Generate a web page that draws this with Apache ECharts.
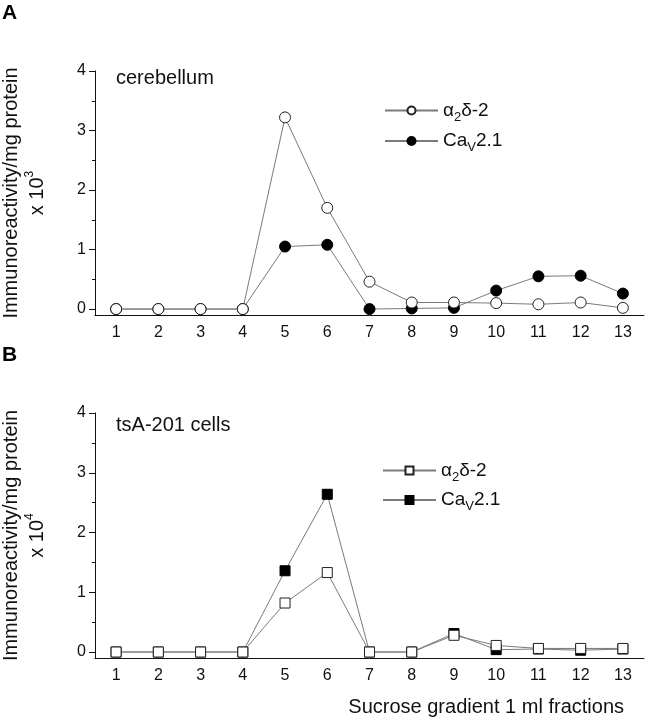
<!DOCTYPE html>
<html>
<head>
<meta charset="utf-8">
<script src="https://cdn.jsdelivr.net/npm/echarts@6/dist/echarts.min.js"></script>
<style>html,body{margin:0;padding:0;background:#fff}#c{width:646px;height:720px}</style>
</head>
<body>
<div id="c"></div>
<script>
const fractions = ['1','2','3','4','5','6','7','8','9','10','11','12','13'];
const yTicks = [0, 1, 2, 3, 4];
const yMinorTicks = [0.5, 1.5, 2.5, 3.5];
const cerebA2d2 = [0, 0, 0, 0, 3.22, 1.70, 0.46, 0.11, 0.11, 0.10, 0.08, 0.11, 0.02];
const cerebCav = [0, 0, 0, 0, 1.05, 1.08, 0, 0.01, 0.02, 0.31, 0.55, 0.56, 0.26];
const tsaA2d2 = [0, 0, 0, 0, 0.82, 1.33, 0, 0, 0.28, 0.11, 0.06, 0.06, 0.06];
const tsaCav = [0, 0, 0, 0, 1.36, 2.64, 0, 0, 0.31, 0.04, 0.05, 0.03, 0.05];

const FONT = 'Liberation Sans';
const chart = echarts.init(document.getElementById('c'), null, {renderer: 'canvas'});

const legendNames = {
  a2d2A: '{t|α}{sub|2}{t|δ-2}', cavA: '{t|Ca}{sub|V}{t|2.1}',
  a2d2B: '{t|α}{sub|2}{t|δ-2}', cavB: '{t|Ca}{sub|V}{t|2.1}'
};
const legendRich = {
  t: {fontSize: 19, fontFamily: FONT, color: '#111', lineHeight: 26},
  sub: {fontSize: 13, fontFamily: FONT, color: '#111', lineHeight: 6, verticalAlign: 'bottom'}
};

function xAx(gi) {
  return {
    type: 'category', gridIndex: gi, data: fractions, boundaryGap: true,
    axisLine: {onZero: false, lineStyle: {color: '#111', width: 1}},
    axisTick: {alignWithLabel: true, length: 6, lineStyle: {color: '#111'}},
    axisLabel: {fontFamily: FONT, fontSize: 16, color: '#111', margin: 10, interval: 0},
    splitLine: {show: false}
  };
}
function yAx(gi, exp) {
  return {
    type: 'value', gridIndex: gi, min: -0.1, max: 4,
    axisLine: {show: true, lineStyle: {color: '#111', width: 1}},
    axisTick: {show: true, length: 6, customValues: yTicks, lineStyle: {color: '#111'}},
    axisLabel: {customValues: yTicks, fontFamily: FONT, fontSize: 16, color: '#111', margin: 9},
    splitLine: {show: false},
    name: 'Immunoreactivity/mg protein\nx 10{sup|' + exp + '}',
    nameLocation: 'middle', nameRotate: 90, nameGap: 45,
    nameTextStyle: {fontFamily: FONT, fontSize: 20, color: '#111', lineHeight: 26,
      rich: {sup: {fontFamily: FONT, fontSize: 12, color: '#111', verticalAlign: 'top', lineHeight: 14}}}
  };
}
function yMinor(gi) {
  return {
    type: 'value', gridIndex: gi, min: -0.1, max: 4, position: 'left', offset: 0,
    axisLine: {show: false},
    axisTick: {show: true, length: 3, customValues: yMinorTicks, lineStyle: {color: '#111'}},
    axisLabel: {show: false}, splitLine: {show: false}
  };
}
function ser(name, data, xi, yi, symbol, size, filled, z) {
  return {
    name: name, type: 'line', xAxisIndex: xi, yAxisIndex: yi, data: data,
    symbol: symbol, symbolSize: size, showSymbol: true, z: z,
    lineStyle: {color: '#7a7a7a', width: 1},
    itemStyle: filled ? {color: '#000', borderColor: '#000', borderWidth: 1}
                      : {color: '#fff', borderColor: '#222', borderWidth: 1},
    emphasis: {disabled: true}, animation: false
  };
}

chart.setOption({
  animation: false,
  backgroundColor: '#fff',
  grid: [
    {left: 95, right: 2, top: 71, height: 244, outerBoundsMode: 'none', containLabel: false},
    {left: 95, right: 2, top: 413, height: 245, outerBoundsMode: 'none', containLabel: false}
  ],
  xAxis: [xAx(0), xAx(1)],
  yAxis: [yAx(0, 3), yAx(1, 4), yMinor(0), yMinor(1)],
  legend: [
    {data: ['a2d2A', 'cavA'], orient: 'vertical', left: 384, top: 101, padding: 0, itemWidth: 53, itemHeight: 10, itemGap: 8,
     formatter: n => legendNames[n], textStyle: {rich: legendRich}, selectedMode: false},
    {data: ['a2d2B', 'cavB'], orient: 'vertical', left: 382, top: 461, padding: 0, itemWidth: 53, itemHeight: 10, itemGap: 7,
     formatter: n => legendNames[n], textStyle: {rich: legendRich}, selectedMode: false}
  ],
  series: [
    ser('cavA', cerebCav, 0, 0, 'circle', 11, true, 2),
    ser('a2d2A', cerebA2d2, 0, 0, 'circle', 11, false, 3),
    ser('cavB', tsaCav, 1, 1, 'rect', 10, true, 2),
    ser('a2d2B', tsaA2d2, 1, 1, 'rect', 10, false, 3)
  ],
  graphic: [
    {type: 'text', left: 2, top: 3, style: {text: 'A', font: 'bold 21px ' + FONT, fill: '#000'}},
    {type: 'text', left: 2, top: 345, style: {text: 'B', font: 'bold 21px ' + FONT, fill: '#000'}},
    {type: 'text', left: 116, top: 68, style: {text: 'cerebellum', font: '20px ' + FONT, fill: '#111'}},
    {type: 'text', left: 116, top: 415, style: {text: 'tsA-201 cells', font: '20px ' + FONT, fill: '#111'}},
    {type: 'text', right: 22, top: 697, style: {text: 'Sucrose gradient 1 ml fractions', font: '20px ' + FONT, fill: '#111'}}
  ]
});
</script>
</body>
</html>
